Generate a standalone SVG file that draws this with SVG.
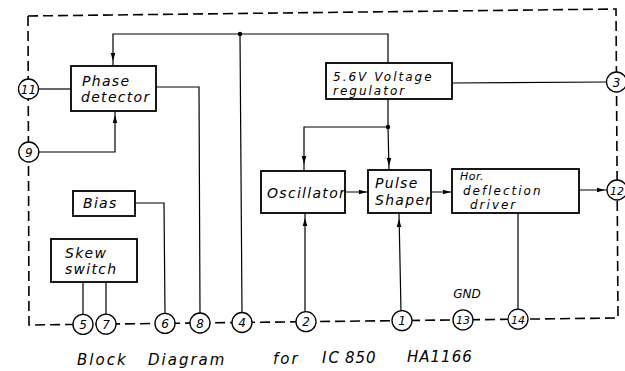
<svg xmlns="http://www.w3.org/2000/svg" xmlns:xlink="http://www.w3.org/1999/xlink" width="625" height="371" viewBox="0 0 625 371">
<defs>
<style>
.frame{fill:none;stroke:#000;stroke-width:1.6;stroke-dasharray:10 5}
.box{fill:#fff;stroke:#000;stroke-width:1.8}
.ln{fill:none;stroke:#000;stroke-width:1.2}
.pin{fill:#fff;stroke:#000;stroke-width:1.3}
.t{font-family:"DejaVu Sans","Liberation Sans",sans-serif;font-style:italic;font-size:14px;letter-spacing:1.3px;fill:#000}
.s{font-size:12px;letter-spacing:2px}
.pn{font-family:"DejaVu Sans","Liberation Sans",sans-serif;font-style:italic;font-size:12px;fill:#000;text-anchor:middle}
.ti{font-family:"DejaVu Sans","Liberation Sans",sans-serif;font-style:italic;font-size:15px;letter-spacing:2px;fill:#000}
</style>
<path id="ah" d="M0,0 L-8,-2.3 L-8,2.3 Z" fill="#000"/>
</defs>
<rect width="625" height="371" fill="#fff"/>
<path class="frame" d="M28,16 L616,9 L618,318 L29,325 Z"/>

<g id="connectors">
<path class="ln" d="M113,66 L113,34 L388,34 L388,63"/>
<circle cx="240" cy="34" r="2.2" fill="#000"/>
<path class="ln" d="M240,34 L242,312"/>
<path class="ln" d="M39,89 L71,89"/>
<path class="ln" d="M39,152 L115,152 L115,111"/>
<path class="ln" d="M156,87 L199,87 L200,313"/>
<path class="ln" d="M135,203 L164,203 L165,313"/>
<path class="ln" d="M83,282 L83,314 M106,282 L106,314"/>
<path class="ln" d="M452,83 L607,82"/>
<path class="ln" d="M388,99 L388,127 L304,127 L304,171 M388,127 L389,170"/>
<circle cx="388" cy="127" r="2.2" fill="#000"/>
<path class="ln" d="M345,192 L368,192 M431,192 L452,192 M579,190 L608,190"/>
<path class="ln" d="M305,312 L305,213 M401,311 L399,213 M518,213 L518,309"/>
<use xlink:href="#ah" transform="translate(113,61) rotate(90)"/>
<use xlink:href="#ah" transform="translate(115,115) rotate(-90)"/>
<use xlink:href="#ah" transform="translate(304,164) rotate(90)"/>
<use xlink:href="#ah" transform="translate(389,166) rotate(90)"/>
<use xlink:href="#ah" transform="translate(367,192)"/>
<use xlink:href="#ah" transform="translate(451,192)"/>
<use xlink:href="#ah" transform="translate(605,190)"/>
<use xlink:href="#ah" transform="translate(305,218) rotate(-90)"/>
<use xlink:href="#ah" transform="translate(399,219) rotate(-90)"/>
</g>

<g id="phase-detector">
<rect class="box" x="71" y="66" width="85" height="45"/>
<text class="t" x="82" y="86">Phase</text>
<text class="t" x="81" y="102">detector</text>
</g>
<g id="bias">
<rect class="box" x="73" y="191" width="62" height="25"/>
<text class="t" x="83" y="208">Bias</text>
</g>
<g id="skew-switch">
<rect class="box" x="51" y="239" width="86" height="43"/>
<text class="t" x="65" y="258">Skew</text>
<text class="t" x="65" y="274">switch</text>
</g>
<g id="voltage-regulator">
<rect class="box" x="326" y="63" width="126" height="36"/>
<text class="t s" x="333" y="81">5.6V<tspan dx="6">Voltage</tspan></text>
<text class="t s" x="333" y="95">regulator</text>
</g>
<g id="oscillator">
<rect class="box" x="261" y="171" width="84" height="42"/>
<text class="t" x="267" y="198">Oscillator</text>
</g>
<g id="pulse-shaper">
<rect class="box" x="368" y="170" width="63" height="43"/>
<text class="t" x="375" y="188">Pulse</text>
<text class="t" x="375" y="205">Shaper</text>
</g>
<g id="hor-deflection-driver">
<rect class="box" x="452" y="169" width="127" height="44"/>
<text class="t" x="460" y="180" style="font-size:11px;letter-spacing:0.5px">Hor.</text>
<text class="t s" x="463" y="195">deflection</text>
<text class="t s" x="470" y="209">driver</text>
</g>

<g id="pin-11"><circle class="pin" cx="28.5" cy="89" r="10"/><text class="pn" x="28.5" y="93.5">11</text></g>
<g id="pin-9"><circle class="pin" cx="28.8" cy="152" r="10"/><text class="pn" x="28.8" y="156.5">9</text></g>
<g id="pin-3"><circle class="pin" cx="616.5" cy="82" r="10"/><text class="pn" x="616.5" y="86.5">3</text></g>
<g id="pin-12"><circle class="pin" cx="617" cy="190" r="10"/><text class="pn" x="617" y="194.5" style="font-size:11px">12</text></g>
<g id="pin-5"><circle class="pin" cx="83" cy="324.4" r="10"/><text class="pn" x="83" y="328.9">5</text></g>
<g id="pin-7"><circle class="pin" cx="106" cy="324.1" r="10"/><text class="pn" x="106" y="328.6">7</text></g>
<g id="pin-6"><circle class="pin" cx="165" cy="323.4" r="10"/><text class="pn" x="165" y="327.9">6</text></g>
<g id="pin-8"><circle class="pin" cx="200" cy="323" r="10"/><text class="pn" x="200" y="327.5">8</text></g>
<g id="pin-4"><circle class="pin" cx="242" cy="322.5" r="10"/><text class="pn" x="242" y="327">4</text></g>
<g id="pin-2"><circle class="pin" cx="306" cy="321.7" r="10"/><text class="pn" x="306" y="326.2">2</text></g>
<g id="pin-1"><circle class="pin" cx="402" cy="320.6" r="10"/><text class="pn" x="402" y="325.1">1</text></g>
<g id="pin-13"><circle class="pin" cx="463" cy="319.9" r="10"/><text class="pn" x="463" y="324.4" style="font-size:11px">13</text></g>
<g id="pin-14"><circle class="pin" cx="518" cy="319.2" r="10"/><text class="pn" x="518" y="323.7" style="font-size:11px">14</text></g>

<text class="pn" x="467" y="298">GND</text>

<g id="title">
<text class="ti" x="77" y="365">Block</text>
<text class="ti" x="148" y="365">Diagram</text>
<text class="ti" x="273" y="364">for</text>
<text class="ti" x="322" y="363">IC</text>
<text class="ti" x="345" y="363" style="letter-spacing:1px">850</text>
<text class="ti" x="407" y="362" style="letter-spacing:1px">HA1166</text>
</g>
</svg>
